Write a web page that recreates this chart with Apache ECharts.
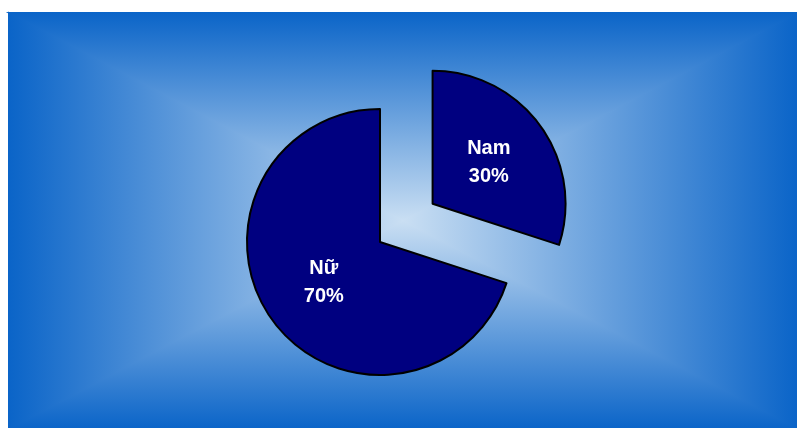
<!DOCTYPE html>
<html>
<head>
<meta charset="utf-8">
<script src="https://cdn.jsdelivr.net/npm/echarts@6/dist/echarts.min.js"></script>
<style>
  html, body { margin: 0; padding: 0; background: #fff; }
  #main { width: 797px; height: 428px; }
</style>
</head>
<body>
<div id="main"></div>
<script>
const categories = ['Nam', 'Nữ'];
const values = [30, 70];

// background box, rectangular gradient: dark blue edges, pale centre
const bx = 8.75, by = 12.75, bw = 789, bh = 416;
const cx = bx + bw / 2, cy = by + bh / 2;
const edge = '#0a64c8', mid = '#cadff3';

function grad(x1, y1, x2, y2) {
  return new echarts.graphic.LinearGradient(x1, y1, x2, y2, [
    { offset: 0, color: edge },
    { offset: 1, color: mid }
  ]);
}

function tri(points, x1, y1, x2, y2) {
  return {
    type: 'polygon',
    silent: true,
    shape: { points: points },
    // stroke with the same gradient hides the seams between triangles
    style: { fill: grad(x1, y1, x2, y2), stroke: grad(x1, y1, x2, y2), lineWidth: 1.5 }
  };
}

let chart = echarts.init(document.getElementById('main'));
chart.setOption({
  animation: false,
  graphic: [
    tri([[bx, by], [bx + bw, by], [cx, cy]], 0, 0, 0, 1),
    tri([[bx, by + bh], [bx + bw, by + bh], [cx, cy]], 0, 1, 0, 0),
    tri([[bx, by], [bx, by + bh], [cx, cy]], 0, 0, 1, 0),
    tri([[bx + bw, by], [bx + bw, by + bh], [cx, cy]], 1, 0, 0, 0)
  ],
  series: [{
    type: 'pie',
    center: [380, 242],
    radius: 133,
    startAngle: 90,
    clockwise: true,
    selectedMode: 'single',
    selectedOffset: 65,
    emphasis: { disabled: true },
    itemStyle: { color: '#000080', borderColor: '#000', borderWidth: 2 },
    label: {
      position: 'inside',
      formatter: '{b}\n{c}%',
      color: '#fff',
      fontFamily: 'Liberation Sans, Arial, sans-serif',
      fontWeight: 'bold',
      fontSize: 20,
      lineHeight: 28
    },
    labelLine: { show: false },
    data: categories.map((c, i) => ({ name: c, value: values[i], selected: i === 0 }))
  }]
});
</script>
</body>
</html>
